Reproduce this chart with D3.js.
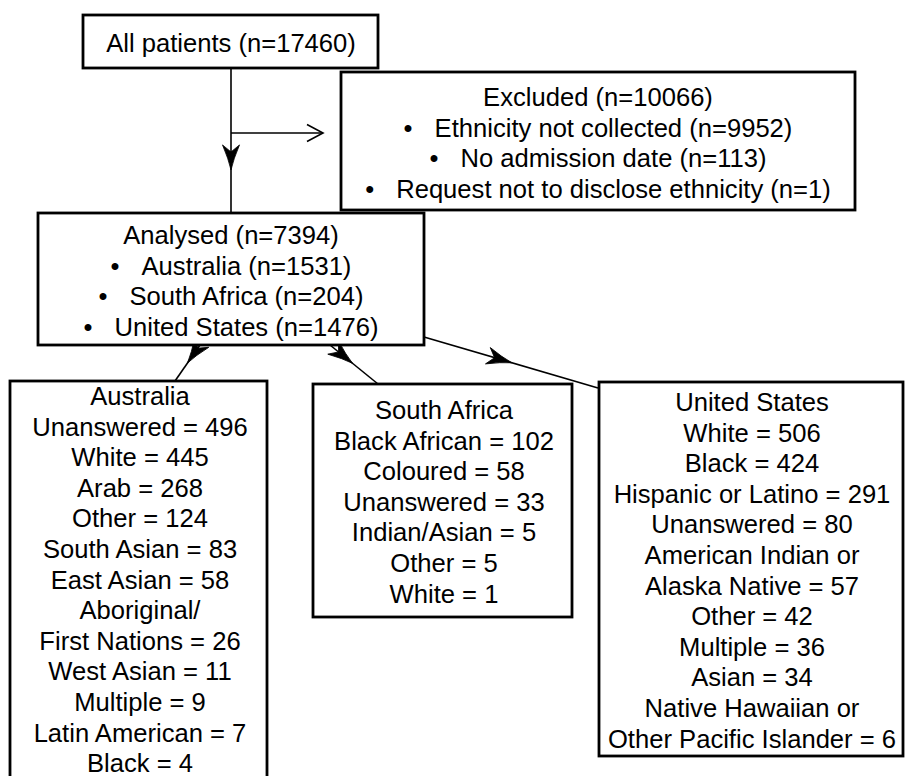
<!DOCTYPE html>
<html>
<head>
<meta charset="utf-8">
<script src="https://cdn.jsdelivr.net/npm/d3@7"></script>
<style>
  body { margin: 0; background: #fff; }
  text { font-family: "Liberation Sans", Arial, sans-serif; font-size: 25.6px; fill: #000; }
</style>
</head>
<body>
<div class="canvas"></div>
<script>
// flow chart text, one array per box
const allPatients = ["All patients (n=17460)"];
const excludedTitle = ["Excluded (n=10066)"];
const excludedReasons = [
  "Ethnicity not collected (n=9952)",
  "No admission date (n=113)",
  "Request not to disclose ethnicity (n=1)"
];
const analysedTitle = ["Analysed (n=7394)"];
const analysedCountries = [
  "Australia (n=1531)",
  "South Africa (n=204)",
  "United States (n=1476)"
];
const australia = [
  "Australia", "Unanswered = 496", "White = 445", "Arab = 268", "Other = 124",
  "South Asian = 83", "East Asian = 58", "Aboriginal/", "First Nations = 26",
  "West Asian = 11", "Multiple = 9", "Latin American = 7", "Black = 4"
];
const southAfrica = [
  "South Africa", "Black African = 102", "Coloured = 58", "Unanswered = 33",
  "Indian/Asian = 5", "Other = 5", "White = 1"
];
const unitedStates = [
  "United States", "White = 506", "Black = 424", "Hispanic or Latino = 291",
  "Unanswered = 80", "American Indian or", "Alaska Native = 57", "Other = 42",
  "Multiple = 36", "Asian = 34", "Native Hawaiian or", "Other Pacific Islander = 6"
];

const width = 905, height = 776;
const lineH = 30.6;

const svg = d3.select('.canvas')
  .append('svg')
    .attr('width', width)
    .attr('height', height);

// box layout (position only)
const boxes = [
  {x0: 83, y0: 15, x1: 378, y1: 68, cx: 231, base: 52,
    lines: allPatients.map(t => ({t, b: false}))},
  {x0: 341, y0: 72, x1: 855, y1: 210, cx: 598, base: 106,
    lines: excludedTitle.map(t => ({t, b: false})).concat(excludedReasons.map(t => ({t, b: true})))},
  {x0: 38, y0: 213, x1: 424, y1: 345, cx: 231, base: 244,
    lines: analysedTitle.map(t => ({t, b: false})).concat(analysedCountries.map(t => ({t, b: true})))},
  {x0: 10, y0: 381, x1: 267, y1: 792, cx: 140, base: 405,
    lines: australia.map(t => ({t, b: false}))},
  {x0: 313, y0: 384, x1: 572, y1: 617, cx: 444, base: 419,
    lines: southAfrica.map(t => ({t, b: false}))},
  {x0: 599, y0: 382, x1: 903, y1: 756, cx: 752, base: 411,
    lines: unitedStates.map(t => ({t, b: false}))}
];

// connectors: from, to, arrow tip fraction, arrow type
const links = [
  {x1: 231, y1: 68, x2: 231, y2: 213, at: 0.703, kind: 'solid'},
  {x1: 231, y1: 133, x2: 323, y2: 133, at: 1, kind: 'open'},
  {x1: 200, y1: 345, x2: 175, y2: 381, at: 0.5, kind: 'solid'},
  {x1: 330, y1: 345, x2: 378, y2: 384, at: 0.47, kind: 'solid'},
  {x1: 424, y1: 337, x2: 598, y2: 388, at: 0.505, kind: 'solid'}
];

const linkG = svg.append('g');

linkG.selectAll('line')
  .data(links)
  .enter()
  .append('line')
    .attr('x1', d => d.x1).attr('y1', d => d.y1)
    .attr('x2', d => d.x2).attr('y2', d => d.y2)
    .attr('stroke', '#000')
    .attr('stroke-width', 1.6);

// arrow heads, local shape points along +x with tip at origin
const stealth = 'M0,0 Q-11,-2.5 -25,-8.5 L-18,0 L-25,8.5 Q-11,2.5 0,0 Z';
const chevron = 'M-16,-8.5 L0,0 L-16,8.5';

linkG.selectAll('path')
  .data(links)
  .enter()
  .append('path')
    .attr('d', d => d.kind === 'open' ? chevron : stealth)
    .attr('fill', d => d.kind === 'open' ? 'none' : '#000')
    .attr('stroke', '#000')
    .attr('stroke-width', d => d.kind === 'open' ? 1.6 : 0.8)
    .attr('transform', d => {
      const x = d.x1 + (d.x2 - d.x1) * d.at;
      const y = d.y1 + (d.y2 - d.y1) * d.at;
      const ang = Math.atan2(d.y2 - d.y1, d.x2 - d.x1) * 180 / Math.PI;
      return `translate(${x},${y}) rotate(${ang})`;
    });

// boxes
const boxG = svg.selectAll('g.box')
  .data(boxes)
  .enter()
  .append('g')
    .attr('class', 'box');

boxG.append('rect')
  .attr('x', d => d.x0)
  .attr('y', d => d.y0)
  .attr('width', d => d.x1 - d.x0)
  .attr('height', d => d.y1 - d.y0)
  .attr('fill', '#fff')
  .attr('stroke', '#000')
  .attr('stroke-width', 2.8);

boxG.each(function(box) {
  const y = d3.scaleLinear()
    .domain([0, 1])
    .range([box.base, box.base + lineH]);

  const texts = d3.select(this).selectAll('text')
    .data(box.lines)
    .enter()
    .append('text')
      .attr('x', box.cx)
      .attr('y', (d, i) => y(i))
      .attr('text-anchor', 'middle');

  texts.filter(d => d.b)
    .append('tspan')
      .text('\u2022');
  texts.append('tspan')
    .attr('dx', d => d.b ? 22 : 0)
    .text(d => d.t);
});
</script>
</body>
</html>
